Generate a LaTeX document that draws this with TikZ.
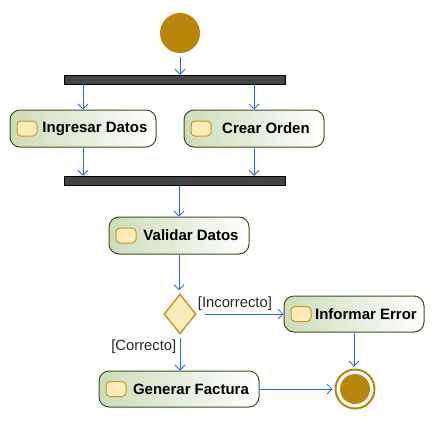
\documentclass[tikz,border=0pt]{standalone}
\usepackage{fontspec}
\setmainfont{Liberation Sans}
\usepackage{tikz}
\usetikzlibrary{shapes.geometric}
\usetikzlibrary{arrows.meta}
\usetikzlibrary{positioning}

\definecolor{gold}{RGB}{184,134,11}
\definecolor{flowblue}{RGB}{40,100,255}
\definecolor{actgreen}{RGB}{205,220,184}
\definecolor{actborder}{RGB}{60,80,30}
\definecolor{iconfill}{RGB}{253,236,186}
\definecolor{iconborder}{RGB}{200,150,40}
\definecolor{bargray}{RGB}{68,68,68}

\begin{document}
\begin{tikzpicture}[x=1pt,y=-1pt,
  act/.style={rectangle,rounded corners=10pt,draw=actborder,line width=1pt,
    left color=actgreen,right color=white,minimum height=37pt,inner sep=0pt,
    font=\fontsize{15}{17}\selectfont\bfseries,
    execute at begin node=\hspace*{24pt},
    path picture={\draw[iconborder,fill=iconfill,line width=1pt,rounded corners=4pt]
      ([xshift=7pt,yshift=-7.5pt]path picture bounding box.west) rectangle ++(20pt,15pt);}},
  bar/.style={rectangle,draw=black,fill=bargray,minimum width=221pt,minimum height=9pt,inner sep=0pt},
  start/.style={circle,fill=gold,minimum size=40pt,inner sep=0pt},
  stop/.style={circle,draw=gold,line width=2pt,fill=white,minimum size=39pt,inner sep=0pt,
    path picture={\fill[gold] (path picture bounding box.center) circle[radius=15pt];}},
  decision/.style={diamond,draw=iconborder,fill=iconfill,line width=1.5pt,
    minimum width=32pt,minimum height=40pt,inner sep=0pt},
  flow/.style={draw=flowblue,line width=0.8pt,-{Straight Barb[length=5pt,width=10pt]}},
  lbl/.style={font=\fontsize{14.8}{17}\selectfont,text=black!85}]
  \useasboundingbox (0,0) rectangle (435,423);

  \node[start] (start) at (180,33) {};
  \node[bar] (fork) at (174.5,79.5) {};
  \node[act,minimum width=146pt] (ingresar) at (83,128.5) {Ingresar Datos};
  \node[act,minimum width=140pt] (crear) at (254,128.5) {Crear Orden};
  \node[bar] (join) at (174.5,180.5) {};
  \node[act,minimum width=140pt] (validar) at (179,235.5) {Validar Datos};
  \node[decision] (dec) at (180,314) {};
  \node[act,minimum width=140pt,minimum height=36pt] (informar) at (354,314) {Informar Error};
  \node[act,minimum width=160pt,minimum height=36pt] (generar) at (179,389) {Generar Factura};
  \node[stop] (stop) at (355,389) {};

  \draw[flow,shorten <=4pt] (start) -- (start |- fork.north);
  \draw[flow] (fork.south -| ingresar) -- (ingresar);
  \draw[flow] (fork.south -| crear) -- (crear);
  \draw[flow] (ingresar) -- (ingresar |- join.north);
  \draw[flow] (crear) -- (crear |- join.north);
  \draw[flow] (join.south -| validar) -- (validar);
  \draw[flow,shorten >=3pt] (validar) -- (validar |- dec.north);
  \draw[flow,shorten <=8pt] (dec) -- node[lbl,above,pos=0.44] (incorrecto) {[Incorrecto]} (informar);
  \draw[flow,shorten <=3pt] (dec) -- node[lbl,left,pos=0.34] (correcto) {[Correcto]} (dec |- generar.north);
  \draw[flow,shorten >=2pt] (informar) -- (informar |- stop.north);
  \draw[flow,shorten >=2pt] (generar) -- (stop);
\end{tikzpicture}
\end{document}
